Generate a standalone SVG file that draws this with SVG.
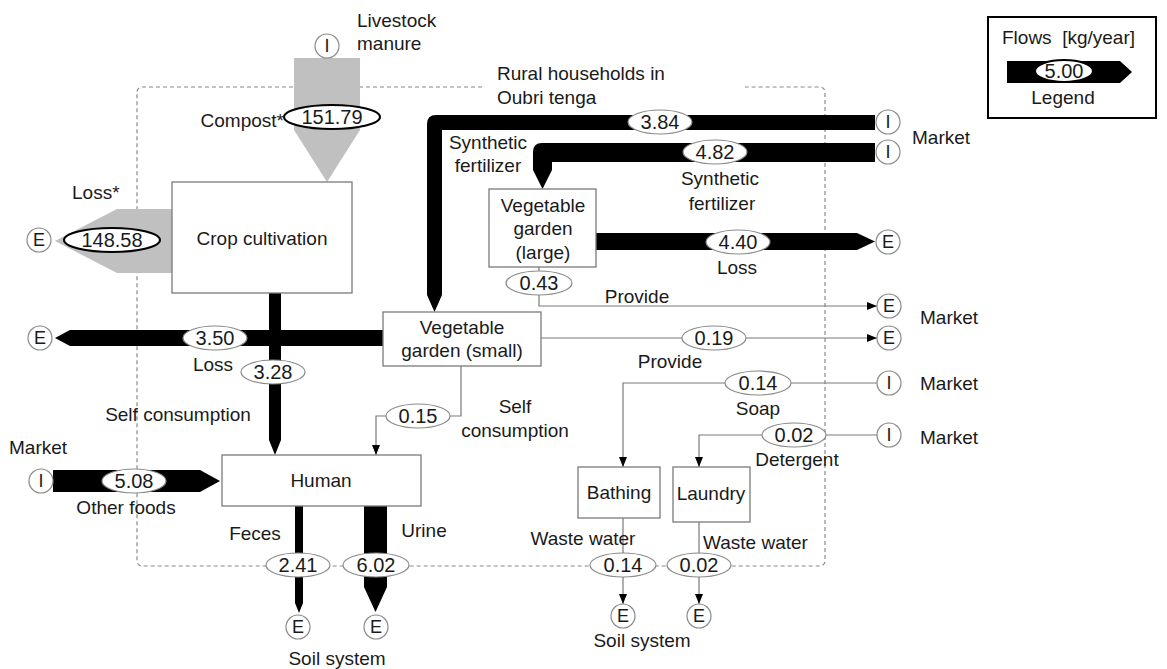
<svg xmlns="http://www.w3.org/2000/svg" width="1167" height="669" viewBox="0 0 1167 669">
<defs>
<style>
text{font-family:"Liberation Sans",Arial,sans-serif;fill:#1a1a1a}
.lbl{font-size:19px}
.num{font-size:20px;text-anchor:middle}
.c{text-anchor:middle}
.box{fill:#fff;stroke:#7a7a7a;stroke-width:1.3}
.ell{fill:#fff;stroke:#8a8a8a;stroke-width:1.2}
.ellb{fill:#fff;stroke:#000;stroke-width:2}
.term{fill:#fff;stroke:#8a8a8a;stroke-width:1.2}
.term-t{font-size:18px;text-anchor:middle}
.thin{fill:none;stroke:#7a7a7a;stroke-width:1.2}
.thick{fill:#000}
.gray{fill:#c0c0c0}
</style>
<marker id="ah" markerUnits="userSpaceOnUse" markerWidth="10" markerHeight="8" refX="10" refY="4" orient="auto">
<path d="M0,0 L10,4 L0,8 Z" fill="#000"/>
</marker>
</defs>
<rect width="1167" height="669" fill="#fff"/>

<!-- system boundary -->
<path d="M482,87 H142 A5,5 0 0 0 137,92 V561 A5,5 0 0 0 142,566 H820 A5,5 0 0 0 825,561 V92 A5,5 0 0 0 820,87 H745" fill="none" stroke="#8a8a8a" stroke-width="1.2" stroke-dasharray="4 3"/>
<text class="lbl" x="497" y="80">Rural households in</text>
<text class="lbl" x="497" y="104">Oubri tenga</text>

<g id="connectors">
<path class="gray" d="M294,58 H360 V130 L327,182 L294,130 Z"/>
<path class="gray" d="M172,209 H117 L55,241 L117,273 H172 Z"/>
<path class="thick" d="M875,115 H436 Q427,115 427,124 V295 L434.5,312 L442,295 V130 H875 Z"/>
<path class="thick" d="M875,143 H542 Q533,143 533,152 V170 L542.5,189 L552,170 V162 H875 Z"/>
<path class="thick" d="M596,233 H857 L875,241.5 L857,250 H596 Z"/>
<path class="thick" d="M383,330 H70 L55,338 L70,346 H383 Z"/>
<path class="thick" d="M269,293 V440 L275,455 L281,440 V293 Z"/>
<path class="thick" d="M53,470 H200 L220,481 L200,492 H53 Z"/>
<path class="thick" d="M295,506 V603 L299,613 L303,603 V506 Z"/>
<path class="thick" d="M364,506 V587 L375.5,612 L387,587 V506 Z"/>
<path class="thin" d="M539,267 V306 H877" marker-end="url(#ah)"/>
<path class="thin" d="M541,338 H877" marker-end="url(#ah)"/>
<path class="thin" d="M877,383 H623 V467" marker-end="url(#ah)"/>
<path class="thin" d="M877,435 H699 V467" marker-end="url(#ah)"/>
<path class="thin" d="M461,366 V416 H376 V455" marker-end="url(#ah)"/>
<path class="thin" d="M623,518 V604" marker-end="url(#ah)"/>
<path class="thin" d="M699,522 V604" marker-end="url(#ah)"/>

<ellipse class="ellb" cx="332" cy="117" rx="48" ry="12"/>
<text class="num" x="332" y="124">151.79</text>
<ellipse class="ellb" cx="112" cy="240" rx="48" ry="12"/>
<text class="num" x="112" y="247">148.58</text>
<ellipse class="ell" cx="660" cy="122" rx="32" ry="12"/>
<text class="num" x="660" y="129">3.84</text>
<ellipse class="ell" cx="715" cy="152" rx="32" ry="12"/>
<text class="num" x="715" y="159">4.82</text>
<ellipse class="ell" cx="738" cy="242" rx="32" ry="12"/>
<text class="num" x="738" y="249">4.40</text>
<ellipse class="ell" cx="539" cy="283" rx="33" ry="12"/>
<text class="num" x="539" y="290">0.43</text>
<ellipse class="ell" cx="714" cy="338" rx="32" ry="12"/>
<text class="num" x="714" y="345">0.19</text>
<ellipse class="ell" cx="758" cy="383" rx="33" ry="12"/>
<text class="num" x="758" y="390">0.14</text>
<ellipse class="ell" cx="794" cy="435" rx="32" ry="12"/>
<text class="num" x="794" y="442">0.02</text>
<ellipse class="ell" cx="215" cy="338" rx="32" ry="12"/>
<text class="num" x="215" y="345">3.50</text>
<ellipse class="ell" cx="273" cy="372" rx="32" ry="12"/>
<text class="num" x="273" y="379">3.28</text>
<ellipse class="ell" cx="418" cy="416" rx="32" ry="12"/>
<text class="num" x="418" y="423">0.15</text>
<ellipse class="ell" cx="134" cy="481" rx="32" ry="12"/>
<text class="num" x="134" y="488">5.08</text>
<ellipse class="ell" cx="298" cy="565" rx="32" ry="12"/>
<text class="num" x="298" y="572">2.41</text>
<ellipse class="ell" cx="376" cy="565" rx="33" ry="12"/>
<text class="num" x="376" y="572">6.02</text>
<ellipse class="ell" cx="623" cy="565" rx="33" ry="12"/>
<text class="num" x="623" y="572">0.14</text>
<ellipse class="ell" cx="699" cy="565" rx="32" ry="12"/>
<text class="num" x="699" y="572">0.02</text>

<text class="lbl" x="284" y="127" text-anchor="end">Compost*</text>
<text class="lbl" x="72" y="199">Loss*</text>
<text class="lbl c" x="488" y="149">Synthetic</text>
<text class="lbl c" x="488" y="172">fertilizer</text>
<text class="lbl c" x="720" y="185">Synthetic</text>
<text class="lbl c" x="722" y="210">fertilizer</text>
<text class="lbl c" x="737" y="274">Loss</text>
<text class="lbl c" x="637" y="303">Provide</text>
<text class="lbl c" x="670" y="368">Provide</text>
<text class="lbl c" x="758" y="415">Soap</text>
<text class="lbl c" x="797" y="466">Detergent</text>
<text class="lbl c" x="213" y="371">Loss</text>
<text class="lbl c" x="178" y="421">Self consumption</text>
<text class="lbl c" x="515" y="413">Self</text>
<text class="lbl c" x="515" y="437">consumption</text>
<text class="lbl c" x="126" y="514">Other foods</text>
<text class="lbl c" x="255" y="540">Feces</text>
<text class="lbl c" x="424" y="537">Urine</text>
<text class="lbl c" x="583" y="545">Waste water</text>
<text class="lbl" x="703" y="549">Waste water</text>
</g>

<g id="n-livestock">
<circle class="term" cx="327" cy="46" r="12"/>
<text class="term-t" x="327" y="52">I</text>
<text class="lbl" x="357" y="27">Livestock</text>
<text class="lbl" x="357" y="50">manure</text>
</g>
<g id="n-crop">
<rect class="box" x="172" y="182" width="180" height="111"/>
<text class="lbl c" x="262" y="245">Crop cultivation</text>
</g>
<g id="n-e-loss-crop">
<circle class="term" cx="39" cy="240" r="12"/>
<text class="term-t" x="39" y="246">E</text>
</g>
<g id="n-market-fert">
<circle class="term" cx="888" cy="122" r="12"/>
<text class="term-t" x="888" y="128">I</text>
<circle class="term" cx="888" cy="152" r="12"/>
<text class="term-t" x="888" y="158">I</text>
<text class="lbl" x="912" y="144">Market</text>
</g>
<g id="n-veg-large">
<rect class="box" x="489" y="189" width="107" height="78"/>
<text class="lbl c" x="543" y="212">Vegetable</text>
<text class="lbl c" x="543" y="235">garden</text>
<text class="lbl c" x="543" y="259">(large)</text>
</g>
<g id="n-e-loss-veg">
<circle class="term" cx="888" cy="242" r="12"/>
<text class="term-t" x="888" y="248">E</text>
</g>
<g id="n-e-market">
<circle class="term" cx="889" cy="306" r="12"/>
<text class="term-t" x="889" y="312">E</text>
<circle class="term" cx="889" cy="338" r="12"/>
<text class="term-t" x="889" y="344">E</text>
<text class="lbl" x="920" y="324">Market</text>
</g>
<g id="n-veg-small">
<rect class="box" x="383" y="312" width="158" height="54"/>
<text class="lbl c" x="462" y="334">Vegetable</text>
<text class="lbl c" x="462" y="357">garden (small)</text>
</g>
<g id="n-e-loss-left">
<circle class="term" cx="40" cy="338" r="12"/>
<text class="term-t" x="40" y="344">E</text>
</g>
<g id="n-market-soap">
<circle class="term" cx="889" cy="383" r="12"/>
<text class="term-t" x="889" y="389">I</text>
<text class="lbl" x="920" y="390">Market</text>
</g>
<g id="n-market-det">
<circle class="term" cx="889" cy="435" r="12"/>
<text class="term-t" x="889" y="441">I</text>
<text class="lbl" x="920" y="444">Market</text>
</g>
<g id="n-market-food">
<text class="lbl" x="9" y="454">Market</text>
<circle class="term" cx="41" cy="481" r="12"/>
<text class="term-t" x="41" y="487">I</text>
</g>
<g id="n-human">
<rect class="box" x="222" y="455" width="199" height="51"/>
<text class="lbl c" x="321" y="487">Human</text>
</g>
<g id="n-bathing">
<rect class="box" x="578" y="467" width="82" height="51"/>
<text class="lbl c" x="619" y="499">Bathing</text>
</g>
<g id="n-laundry">
<rect class="box" x="673" y="467" width="77" height="55"/>
<text class="lbl c" x="711" y="500">Laundry</text>
</g>
<g id="n-soil-human">
<circle class="term" cx="298" cy="627" r="12"/>
<text class="term-t" x="298" y="633">E</text>
<circle class="term" cx="376" cy="627" r="12"/>
<text class="term-t" x="376" y="633">E</text>
<text class="lbl c" x="337" y="665">Soil system</text>
</g>
<g id="n-soil-water">
<circle class="term" cx="623" cy="616" r="12"/>
<text class="term-t" x="623" y="622">E</text>
<circle class="term" cx="699" cy="616" r="12"/>
<text class="term-t" x="699" y="622">E</text>
<text class="lbl c" x="642" y="647">Soil system</text>
</g>
<g id="legend">
<rect x="988" y="17" width="168" height="101" fill="#fff" stroke="#000" stroke-width="2"/>
<text class="lbl" x="1002" y="44" xml:space="preserve">Flows  [kg/year]</text>
<path class="thick" d="M1007,61 H1120 L1132,72 L1120,83 H1007 Z"/>
<ellipse class="ellb" cx="1064" cy="71" rx="29" ry="11"/>
<text class="num" x="1064" y="78">5.00</text>
<text class="lbl c" x="1063" y="104">Legend</text>
</g>
</svg>
